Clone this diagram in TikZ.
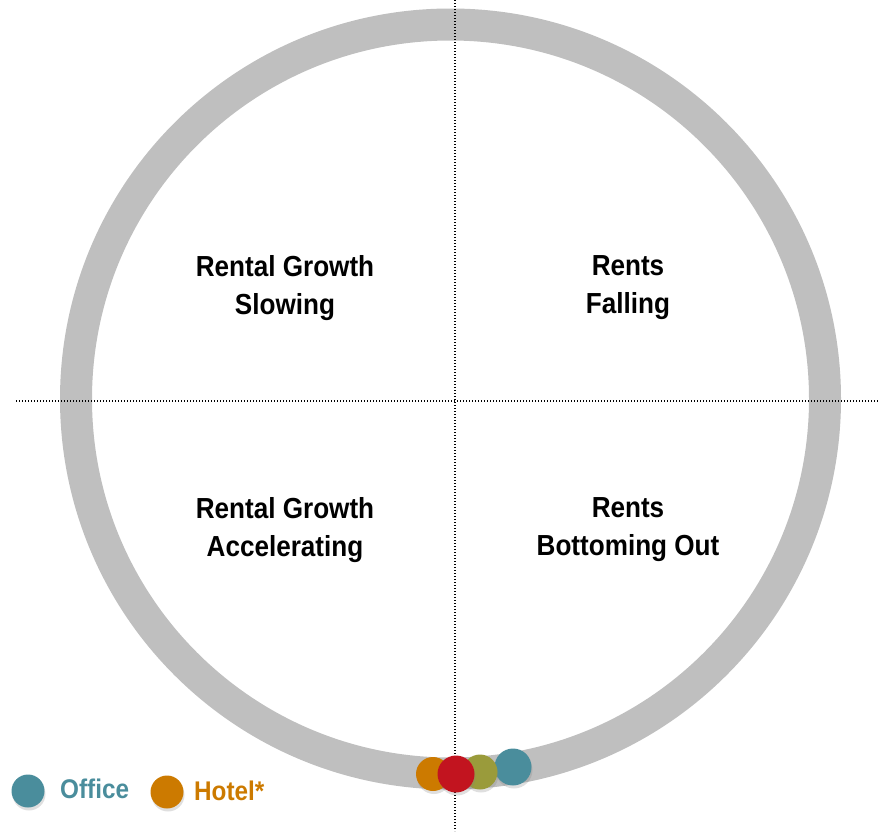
\documentclass[tikz,border=0pt]{standalone}
\usepackage{fontspec}
\setmainfont[FakeStretch=0.9]{Liberation Sans}
\usetikzlibrary{shadows}
\definecolor{ringgray}{HTML}{BFBFBF}
\definecolor{teal}{HTML}{4A8D9C}
\definecolor{orng}{HTML}{CC7A00}
\definecolor{redd}{HTML}{C2141F}
\definecolor{olive}{HTML}{9A9B3B}
\tikzset{
  dot/.style={circle, inner sep=0pt, draw=none,
    drop shadow={opacity=0.25, shadow xshift=1pt, shadow yshift=-3pt}},
  label/.style={font=\bfseries\fontsize{29}{38}\selectfont, align=center, text=black},
  legend/.style={font=\bfseries\fontsize{27}{30}\selectfont, anchor=west, inner sep=0pt},
  guide/.style={black, line width=1.3pt, dash pattern=on 1.3pt off 1.7pt}
}
\begin{document}
\begin{tikzpicture}[x=1pt,y=-1pt]
\useasboundingbox (0,0) rectangle (883,831);
\node[circle, draw=ringgray, line width=32pt, minimum size=749pt, inner sep=0pt] (ring) at (450.5,399) {};
\coordinate (vtop) at (455,0);
\coordinate (vbot) at (455,831);
\coordinate (hl) at (16,401);
\coordinate (hr) at (878,401);
\draw[guide] (vtop) -- (vbot);
\draw[guide] (hl) -- (hr);
\node[label] (q1) at (285,288) {Rental Growth\\Slowing};
\node[label] (q2) at (628,288) {Rents\\Falling};
\node[label] (q3) at (285,530) {Rental Growth\\Accelerating};
\node[label] (q4) at (628,530) {Rents\\Bottoming Out};
\node[dot, fill=teal, minimum size=37pt] (d4) at (513,767) {};
\node[dot, fill=olive, minimum size=35pt] (d3) at (480,772) {};
\node[dot, fill=orng, minimum size=34pt] (d1) at (433,774) {};
\node[dot, fill=redd, minimum size=37pt] (d2) at (456,774) {};
\node[dot, fill=teal, minimum size=33pt] (l1) at (28,791) {};
\node[legend, text=teal] (t1) at (60,789) {Office};
\node[dot, fill=orng, minimum size=33pt] (l2) at (167,792) {};
\node[legend, text=orng] (t2) at (194,791) {Hotel*};
\end{tikzpicture}
\end{document}
